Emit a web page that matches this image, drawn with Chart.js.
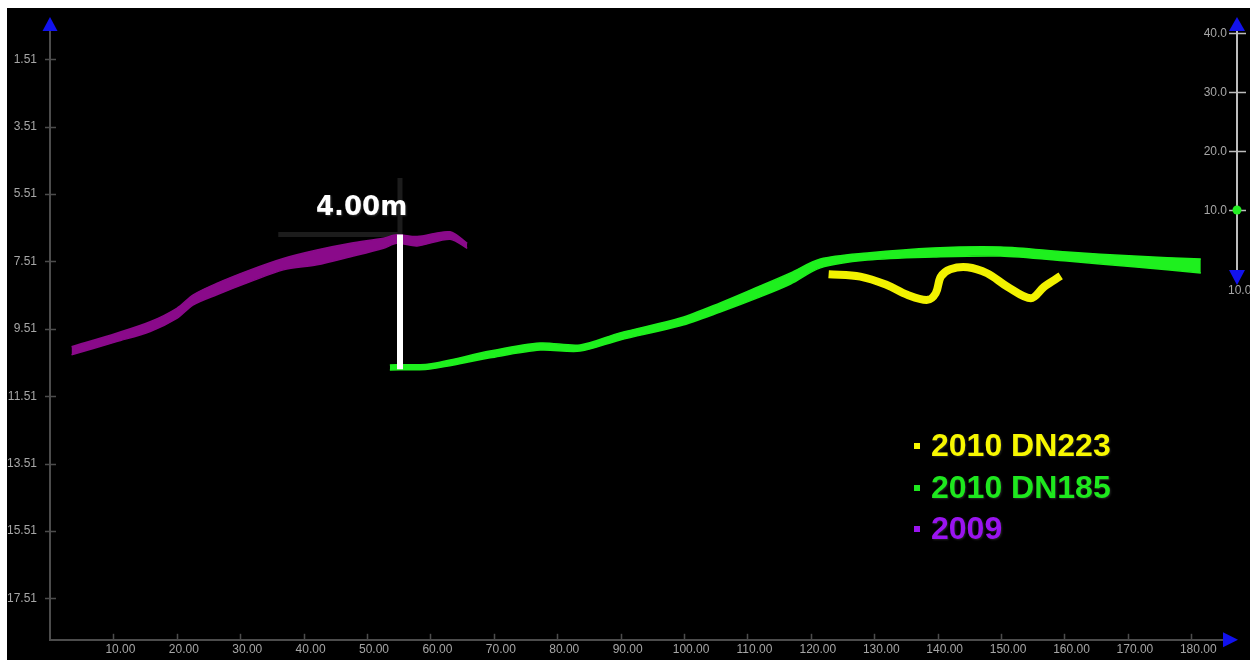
<!DOCTYPE html>
<html>
<head>
<meta charset="utf-8">
<script src="https://cdn.jsdelivr.net/npm/chart.js@4/dist/chart.umd.min.js"></script>
<style>
  html, body { margin: 0; padding: 0; background: #fff; }
  #wrap { position: relative; width: 1250px; height: 660px; overflow: hidden; }
  canvas { position: absolute; left: 0; top: 0; }
  .leg { position: absolute; font: bold 32px "Liberation Sans", Arial, sans-serif; line-height: 32px; white-space: nowrap; text-shadow: 1px 1px 2px rgba(60,60,60,0.6); }
  .sq { position: absolute; width: 6px; height: 6px; }
  #meas { position: absolute; left: 316px; top: 193px; font: bold 26px "DejaVu Sans", sans-serif; line-height: 26px; color: #fff; white-space: nowrap; text-shadow: 1px 1px 2px #333; }
</style>
</head>
<body>
<div id="wrap">
  <canvas id="c" width="1250" height="660"></canvas>
  <div id="meas"></div>
  <div id="legend"></div>
</div>
<script>
// ---------------- data ----------------
const xTicks = [10, 20, 30, 40, 50, 60, 70, 80, 90, 100, 110, 120, 130, 140, 150, 160, 170, 180];
const yTicks = [1.51, 3.51, 5.51, 7.51, 9.51, 11.51, 13.51, 15.51, 17.51];
const sliderTicks = [40, 30, 20, 10];
const sliderValue = 10;

const seriesNames = ['2010 DN223', '2010 DN185', '2009'];

// 2009 (purple) band: x, upper edge, lower edge (depth)
const purpleX      = [3.4, 10.5, 15.8, 20.0, 22.6, 26.3, 31.6, 36.8, 42.1, 47.4, 52.6, 54.7, 57.9, 63.1, 65.8];
const purpleTop    = [10.04, 9.64, 9.30, 8.90, 8.50, 8.16, 7.76, 7.42, 7.17, 6.97, 6.82, 6.72, 6.77, 6.63, 6.97];
const purpleBottom = [10.28, 9.89, 9.59, 9.20, 8.80, 8.50, 8.11, 7.76, 7.61, 7.37, 7.12, 6.97, 7.05, 6.85, 7.12];

// 2010 DN185 (green) band
const greenX      = [53.6, 59.9, 69.4, 77.3, 83.6, 89.9, 99.4, 105.7, 112.0, 116.8, 121.5, 128.9, 139.3, 149.9, 160.4, 170.9, 181.5];
const greenTop    = [10.58, 10.55, 10.17, 9.93, 9.99, 9.63, 9.19, 8.74, 8.24, 7.85, 7.44, 7.26, 7.11, 7.08, 7.23, 7.35, 7.44];
const greenBottom = [10.73, 10.70, 10.37, 10.14, 10.17, 9.84, 9.42, 9.01, 8.56, 8.18, 7.70, 7.47, 7.38, 7.35, 7.50, 7.67, 7.85];

// 2010 DN223 (yellow) centre line
const yellowX = [122.8, 127.8, 132.0, 135.2, 138.4, 139.7, 140.5, 142.0, 144.7, 147.8, 151.0, 154.7, 156.8, 159.4];
const yellowY = [7.89, 7.96, 8.21, 8.50, 8.65, 8.45, 7.96, 7.74, 7.68, 7.86, 8.26, 8.60, 8.26, 7.94];

// 4.00 m measurement
const measureX = [55.2, 55.2];
const measureY = [6.71, 10.71];
const guideX = [36.0, 55.2, 55.2];
const guideY = [6.71, 6.71, 5.03];
const measureLabel = (measureY[1] - measureY[0]).toFixed(2) + 'm';

// ---------------- helpers ----------------
const pts = (xs, ys) => xs.map((x, i) => ({ x: x, y: ys[i] }));
const BLUE = '#1212ee';
const TXT = '#a6a6a6';
const AXIS = '#4c4c4c';

function tri(ctx, a, b, c) {
  ctx.beginPath(); ctx.moveTo(a[0], a[1]); ctx.lineTo(b[0], b[1]); ctx.lineTo(c[0], c[1]); ctx.closePath(); ctx.fill();
}

const deco = {
  id: 'deco',
  beforeDraw(chart) {
    const ctx = chart.ctx;
    ctx.save();
    ctx.fillStyle = '#ffffff';
    ctx.fillRect(0, 0, chart.width, chart.height);
    ctx.fillStyle = '#000000';
    ctx.fillRect(7, 8, chart.width - 7, chart.height - 8);
    ctx.restore();
  },
  afterDraw(chart) {
    const ctx = chart.ctx;
    const xs = chart.scales.x, ys = chart.scales.y;
    const ca = chart.chartArea;
    ctx.save();
    // tick marks
    ctx.strokeStyle = AXIS;
    ctx.lineWidth = 1.5;
    ys.ticks.forEach(t => {
      const p = Math.round(ys.getPixelForValue(t.value)) + 0.5;
      ctx.beginPath(); ctx.moveTo(ca.left - 5, p); ctx.lineTo(ca.left + 6, p); ctx.stroke();
    });
    xs.ticks.forEach(t => {
      const p = Math.round(xs.getPixelForValue(t.value)) + 0.5;
      ctx.beginPath(); ctx.moveTo(p, ca.bottom - 6); ctx.lineTo(p, ca.bottom); ctx.stroke();
    });
    // axis arrows
    ctx.fillStyle = BLUE;
    tri(ctx, [ca.left, 17], [ca.left - 7.5, ca.top], [ca.left + 7.5, ca.top]);
    tri(ctx, [ca.right + 15, ca.bottom], [ca.right, ca.bottom - 7.5], [ca.right, ca.bottom + 7.5]);

    // right slider
    const sx = 1237;
    const sp = v => 210 - (v - sliderValue) * 5.9;
    ctx.strokeStyle = '#bdbdbd';
    ctx.lineWidth = 2;
    ctx.beginPath(); ctx.moveTo(sx, 31); ctx.lineTo(sx, 270); ctx.stroke();
    ctx.font = '12px "Liberation Sans", Arial, sans-serif';
    ctx.fillStyle = TXT;
    ctx.textAlign = 'right';
    ctx.textBaseline = 'middle';
    sliderTicks.forEach(v => {
      const p = Math.round(sp(v)) + 0.5;
      ctx.strokeStyle = '#bdbdbd';
      ctx.lineWidth = 1.5;
      ctx.beginPath(); ctx.moveTo(sx - 8, p); ctx.lineTo(sx + 9, p); ctx.stroke();
      ctx.fillText(v.toFixed(1), sx - 10, p);
    });
    ctx.fillStyle = BLUE;
    tri(ctx, [sx, 17], [sx - 8, 31], [sx + 8, 31]);
    tri(ctx, [sx, 285], [sx - 8, 270], [sx + 8, 270]);
    ctx.fillStyle = '#22ee22';
    ctx.beginPath(); ctx.arc(sx, sp(sliderValue), 4.5, 0, Math.PI * 2); ctx.fill();
    ctx.fillStyle = TXT;
    ctx.textAlign = 'left';
    ctx.fillText(sliderValue.toFixed(1), 1228, 291);
    ctx.restore();
  }
};

const GREEN = '#1ef01e';
const PURPLE = '#8a0a8a';
const YELLOW = '#f2f200';

new Chart(document.getElementById('c'), {
  type: 'line',
  data: {
    datasets: [
      { data: pts(measureX, measureY), borderColor: '#ffffff', borderWidth: 6, pointRadius: 0, borderCapStyle: 'butt' },
      { data: pts(yellowX, yellowY), borderColor: YELLOW, borderWidth: 8, pointRadius: 0, tension: 0.35 },
      { data: pts(greenX, greenTop), borderColor: GREEN, borderWidth: 1.5, pointRadius: 0, tension: 0.3, fill: false },
      { data: pts(greenX, greenBottom), borderColor: GREEN, borderWidth: 1.5, pointRadius: 0, tension: 0.3, fill: '-1', backgroundColor: GREEN },
      { data: pts(purpleX, purpleTop), borderColor: PURPLE, borderWidth: 1.5, pointRadius: 0, tension: 0.3, fill: false },
      { data: pts(purpleX, purpleBottom), borderColor: PURPLE, borderWidth: 1.5, pointRadius: 0, tension: 0.3, fill: '-1', backgroundColor: PURPLE },
      { data: pts(guideX, guideY), borderColor: '#1c1c1c', borderWidth: 5, pointRadius: 0 }
    ]
  },
  options: {
    responsive: false,
    animation: false,
    devicePixelRatio: 1,
    layout: { padding: { left: 0, top: 31, right: 27, bottom: 0 } },
    plugins: { legend: { display: false }, tooltip: { enabled: false } },
    scales: {
      x: {
        type: 'linear', min: 0, max: 185,
        afterBuildTicks: s => { s.ticks = xTicks.map(v => ({ value: v })); },
        afterFit: s => { s.height = 20; },
        grid: { display: false, drawTicks: false },
        border: { display: true, color: AXIS, width: 2 },
        ticks: { color: TXT, font: { family: '"Liberation Sans", Arial, sans-serif', size: 12 }, padding: 3, labelOffset: 7, maxRotation: 0, autoSkip: false, callback: v => Number(v).toFixed(2) }
      },
      y: {
        type: 'linear', min: 0.67, max: 18.74, reverse: true,
        afterBuildTicks: s => { s.ticks = yTicks.map(v => ({ value: v })); },
        afterFit: s => { s.width = 50; },
        grid: { display: false, drawTicks: false },
        border: { display: true, color: AXIS, width: 2 },
        ticks: { color: TXT, font: { family: '"Liberation Sans", Arial, sans-serif', size: 12 }, padding: 13, autoSkip: false, callback: v => Number(v).toFixed(2) }
      }
    }
  },
  plugins: [deco]
});

// measurement label and legend (HTML text)
document.getElementById('meas').textContent = measureLabel;
const legendColors = ['#f7f700', '#1ee81e', '#9a14f0'];
const leg = document.getElementById('legend');
seriesNames.forEach((name, i) => {
  const top = 429 + i * 41.5;
  const sq = document.createElement('div');
  sq.className = 'sq';
  sq.style.left = '914px';
  sq.style.top = (top + 14) + 'px';
  sq.style.background = legendColors[i];
  leg.appendChild(sq);
  const t = document.createElement('div');
  t.className = 'leg';
  t.style.left = '931px';
  t.style.top = top + 'px';
  t.style.color = legendColors[i];
  t.textContent = name;
  leg.appendChild(t);
});
</script>
</body>
</html>
